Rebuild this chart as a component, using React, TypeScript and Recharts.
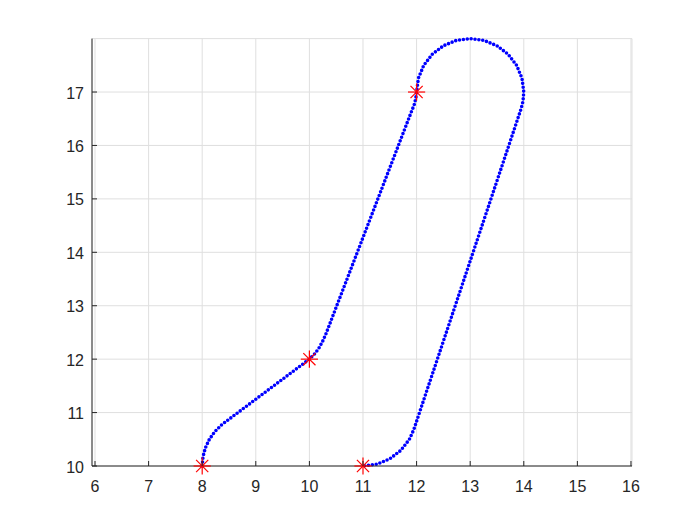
import React from 'react';
import { ComposedChart, Line, Scatter, XAxis, YAxis, CartesianGrid } from 'recharts';

const xTicks = [6, 7, 8, 9, 10, 11, 12, 13, 14, 15, 16];
const yTicks = [10, 11, 12, 13, 14, 15, 16, 17];

// Vertices of the planned path
const pathX = [
  8, 8.015, 8.06, 8.134, 8.234, 8.357, 8.4,
  10,
  10.1, 10.18, 10.245, 10.3,
  11.91,
  11.955, 11.985, 12,
  12.034, 12.134, 12.293, 12.5, 12.741, 13, 13.259, 13.5, 13.707, 13.866, 13.966, 14, 13.985, 13.949,
  11.949,
  11.866, 11.707, 11.5, 11.259, 11,
];
const pathY = [
  10, 10.174, 10.342, 10.5, 10.643, 10.766, 10.8,
  12,
  12.1, 12.21, 12.33, 12.45,
  16.65,
  16.76, 16.88, 17,
  17.259, 17.5, 17.707, 17.866, 17.966, 18, 17.966, 17.866, 17.707, 17.5, 17.259, 17, 16.826, 16.684,
  10.684,
  10.5, 10.293, 10.134, 10.034, 10,
];

// Waypoints (red asterisks)
const waypointX = [8, 10, 12, 11];
const waypointY = [10, 12, 17, 10];

const pathData = pathX.map((x, i) => ({ x, y: pathY[i] }));
const waypointData = waypointX.map((x, i) => ({ x, y: waypointY[i] }));

const FONT = '"Liberation Sans", Arial, Helvetica, sans-serif';
const AXIS_COLOR = '#262626';

const XTick = (props: any) => {
  const { x, y, payload } = props;
  return (
    <g>
      <line x1={x} y1={y} x2={x} y2={y - 5} stroke={AXIS_COLOR} strokeWidth={1} />
      <text x={x} y={y + 25.5} textAnchor="middle" fill={AXIS_COLOR} fontSize={16} fontFamily={FONT}>
        {payload.value}
      </text>
    </g>
  );
};

const YTick = (props: any) => {
  const { x, y, payload } = props;
  return (
    <g>
      <line x1={x} y1={y} x2={x + 5} y2={y} stroke={AXIS_COLOR} strokeWidth={1} />
      <text x={x - 8} y={y + 6.5} textAnchor="end" fill={AXIS_COLOR} fontSize={16} fontFamily={FONT}>
        {payload.value}
      </text>
    </g>
  );
};

const Asterisk = (props: any) => {
  const { cx, cy } = props;
  const r = 8.6;
  const d = r * 0.7071;
  return (
    <g stroke="#ff0000" strokeWidth={1.2}>
      <line x1={cx - r} y1={cy} x2={cx + r} y2={cy} />
      <line x1={cx} y1={cy - r} x2={cx} y2={cy + r} />
      <line x1={cx - d} y1={cy - d} x2={cx + d} y2={cy + d} />
      <line x1={cx - d} y1={cy + d} x2={cx + d} y2={cy - d} />
    </g>
  );
};

export default function App() {
  return (
    <div style={{ width: 700, height: 517 }}>
      <ComposedChart
        width={700}
        height={517}
        margin={{ top: 30.6, right: 76, bottom: 29, left: 0 }}
      >
        <CartesianGrid stroke="#dfdfdf" strokeWidth={1} />
        <XAxis
          type="number"
          dataKey="x"
          domain={[5.944, 16.019]}
          ticks={xTicks}
          interval={0}
          height={30}
          tickSize={0}
          tickMargin={0}
          tickLine={false}
          axisLine={{ stroke: AXIS_COLOR, strokeWidth: 1 }}
          tick={<XTick />}
        />
        <YAxis
          type="number"
          dataKey="y"
          domain={[10, 18]}
          ticks={yTicks}
          interval={0}
          width={84}
          tickSize={0}
          tickMargin={0}
          tickLine={false}
          axisLine={{ stroke: AXIS_COLOR, strokeWidth: 1 }}
          tick={<YTick />}
        />
        <Line
          data={pathData}
          dataKey="y"
          type="linear"
          stroke="#0000ff"
          strokeWidth={3.6}
          strokeDasharray="0 3.9"
          strokeLinecap="round"
          strokeLinejoin="round"
          dot={false}
          activeDot={false}
          isAnimationActive={false}
        />
        <Scatter
          data={waypointData}
          dataKey="y"
          shape={<Asterisk />}
          isAnimationActive={false}
        />
      </ComposedChart>
    </div>
  );
}
